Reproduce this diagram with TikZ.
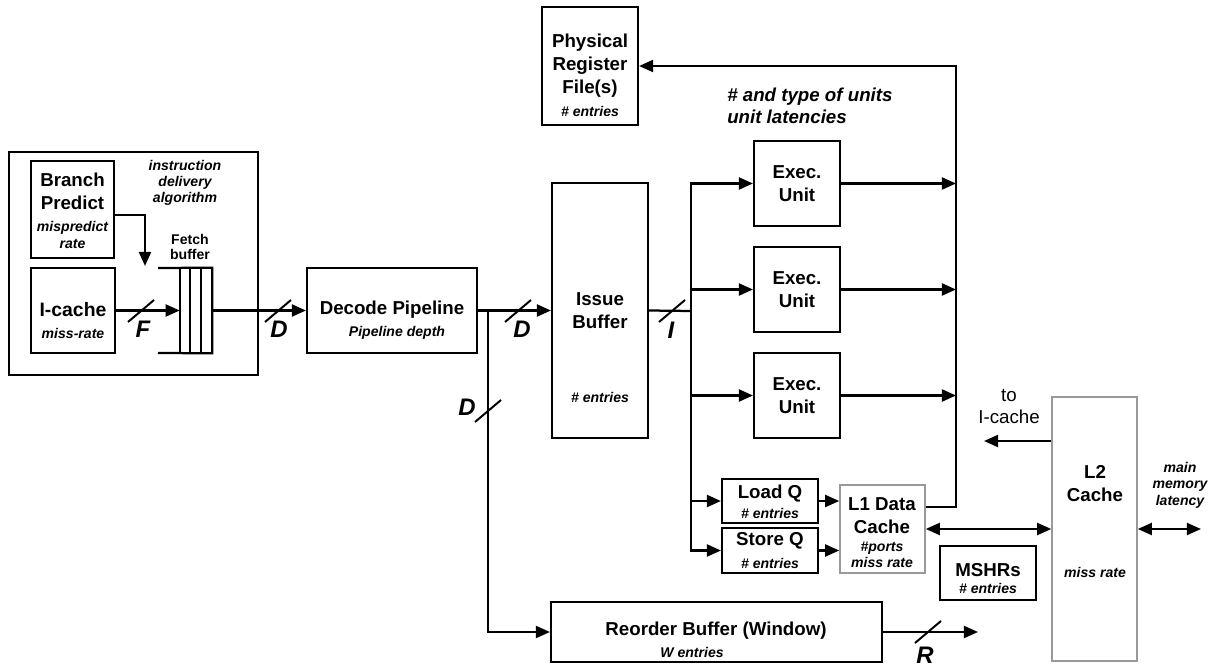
\documentclass[tikz,border=0pt]{standalone}
\usepackage{fontspec}
\setmainfont{Liberation Sans}
\usetikzlibrary{fit,arrows.meta}
\begin{document}
\begin{tikzpicture}[x=0.025cm,y=-0.025cm,
  box/.style={draw,line width=1.5pt,inner sep=0pt},
  gbox/.style={draw=black!40,line width=1.1pt,inner sep=0pt},
  ttl/.style={font=\bfseries\fontsize{13.3}{16.4}\selectfont,align=center,inner sep=0pt},
  sml/.style={font=\bfseries\itshape\fontsize{10}{11.5}\selectfont,align=center,inner sep=0pt},
  lbl/.style={font=\bfseries\itshape\fontsize{17}{20}\selectfont,inner sep=0pt},
  conn/.style={line width=1.6pt},
  arr/.style={conn,-{Triangle[length=10pt,width=8.5pt]}},
  darr/.style={conn,{Triangle[length=10pt,width=8.5pt]}-{Triangle[length=10pt,width=8.5pt]}},
  slashmark/.style={line width=1.4pt}]
\useasboundingbox (0,0) rectangle (1219,669);

% ---------- front end ----------
\node[box,fit={(9,152) (258,375)}] (front) {};
\node[box,fit={(31,161) (114,258)}] (bp) {};
\node[ttl] (bpt) at (72.5,191) {Branch\\Predict};
\node[sml] (bps) at (72.5,235) {mispredict\\rate};
\node[box,fit={(31,268) (115,353)}] (ic) {};
\node[ttl,font=\bfseries\fontsize{13.8}{16.4}\selectfont] (ict) at (73,310) {I-cache};
\node[sml] (ics) at (73,333) {miss-rate};
\node[sml,font=\bfseries\itshape\fontsize{10}{11.4}\selectfont] (alg) at (185,183) {instruction\\delivery\\algorithm};
\node[font=\bfseries\fontsize{10}{10}\selectfont,align=center,inner sep=0pt] (fbl) at (190,247) {Fetch\\buffer};

% fetch buffer
\node[inner sep=0pt,fit={(180,268) (212,353)}] (fb) {};
\draw[conn] (158,268) -- (fb.north east) -- (fb.south east) -- (158,353);
\draw[conn] (fb.north west) -- (fb.south west);
\draw[conn] (190,268) -- (190,353);
\draw[conn] (201,268) -- (201,353);

\coordinate (bpin) at (145,266);
\draw[arr] ([yshift=-4pt]bp.east) -| (bpin);
\draw[arr] (ic.east) -- (fb.west);
\coordinate (sF) at (141,311);
\draw[slashmark] ([shift={(-13,11)}]sF) -- ([shift={(13,-11)}]sF);
\node[lbl] (lF) at (143,329) {F};

% ---------- decode ----------
\node[box,fit={(307,268) (477,353)}] (dec) {};
\node[ttl] (dect) at (392,310) {Decode Pipeline};
\node[sml] (decs) at (397,333) {Pipeline depth};
\draw[arr] (fb.east) -- (dec.west);
\coordinate (sD1) at (278,311);
\draw[slashmark] ([shift={(-13,11)}]sD1) -- ([shift={(13,-11)}]sD1);
\node[lbl] (lD1) at (279,329) {D};

% ---------- issue buffer ----------
\node[box,fit={(552,183) (648,438)}] (iss) {};
\node[ttl] (isst) at (600,311) {Issue\\Buffer};
\node[sml] (isss) at (600,397) {\# entries};
\coordinate (br) at (488,311);
\draw[arr] (dec.east) -- (iss.west);
\coordinate (sD2) at (518,311);
\draw[slashmark] ([shift={(-13,11)}]sD2) -- ([shift={(13,-11)}]sD2);
\node[lbl] (lD2) at (522,329) {D};

% ---------- reorder buffer ----------
\node[box,fit={(551,602) (882,662)}] (rob) {};
\node[ttl] (robt) at (716,631) {Reorder Buffer (Window)};
\node[sml] (robs) at (692,652) {W entries};
\draw[arr] (br) |- (rob.west);
\coordinate (sD3) at (488,411);
\draw[slashmark] ([shift={(-13,11)}]sD3) -- ([shift={(13,-11)}]sD3);
\node[lbl] (lD3) at (467,407) {D};
\coordinate (robout) at (978,632);
\draw[arr] (rob.east) -- (robout);
\coordinate (sR) at (928,632);
\draw[slashmark] ([shift={(-13,11)}]sR) -- ([shift={(13,-11)}]sR);
\node[lbl] (lR) at (925,655) {R};

% ---------- physical register file ----------
\node[box,fit={(542,7) (638,125)}] (prf) {};
\node[ttl] (prft) at (590,66) {Physical\\Register\\File(s)};
\node[sml] (prfs) at (590,111) {\# entries};
\node[font=\bfseries\itshape\fontsize{13.3}{15.6}\selectfont,align=left,inner sep=0pt,anchor=west] (units) at (727,106) {\# and type of units\\unit latencies};

% ---------- exec units ----------
\node[box,fit={(754,141) (840,226)}] (ex1) {};
\node[ttl] (ex1t) at (ex1) {Exec.\\Unit};
\node[box,fit={(754,247) (840,332)}] (ex2) {};
\node[ttl] (ex2t) at (ex2) {Exec.\\Unit};
\node[box,fit={(754,353) (840,438)}] (ex3) {};
\node[ttl] (ex3t) at (ex3) {Exec.\\Unit};

% ---------- load / store queues ----------
\node[box,fit={(722,479) (818,523)}] (lq) {};
\node[ttl] (lqt) at (770,494) {Load Q};
\node[sml] (lqs) at (770,513) {\# entries};
\node[box,fit={(722,528) (818,573)}] (sq) {};
\node[ttl] (sqt) at (770,541) {Store Q};
\node[sml] (sqs) at (770,563) {\# entries};

\coordinate (bus) at (691,311);
\draw[conn] (iss.east) -- (bus);
\coordinate (sI) at (672,311);
\draw[slashmark] ([shift={(-13,11)}]sI) -- ([shift={(13,-11)}]sI);
\node[lbl] (lI) at (671,330) {I};
\draw[arr] (bus) |- (ex1.west);
\draw[arr] (bus) |- (ex2.west);
\draw[arr] (bus) |- (ex3.west);
\draw[arr] (bus) |- (lq.west);
\draw[arr] (bus) |- (sq.west);

% ---------- L1 / L2 ----------
\node[gbox,fit={(840,485) (925,573)}] (l1) {};
\node[ttl] (l1t) at (882,516) {L1 Data\\Cache};
\node[sml] (l1s) at (882,555) {\#ports\\miss rate};
\draw[arr] (lq.east) -- (lq.east -| l1.west);
\draw[arr] (sq.east) -- (sq.east -| l1.west);

\coordinate (rv) at (956,66);
\draw[arr] (ex1.east) -- (ex1.east -| rv);
\draw[arr] (ex2.east) -- (ex2.east -| rv);
\draw[arr] (ex3.east) -- (ex3.east -| rv);
\draw[arr] ([yshift=15.6pt]l1.east) -| (rv) -- (prf.east);

\node[gbox,fit={(1052,397) (1137,661)}] (l2) {};
\node[ttl] (l2t) at (1095,484) {L2\\Cache};
\node[sml] (l2s) at (1095,572) {miss rate};
\draw[darr] (l1.east) -- (l1.east -| l2.west);

\coordinate (toic) at (984,441);
\draw[arr] (l2.west |- toic) -- (toic);
\node[font=\fontsize{13.3}{15.6}\selectfont,align=center,inner sep=0pt] (toict) at (1009,407) {to\\I-cache};

\coordinate (mm) at (1201,529);
\draw[darr] (l2.east |- mm) -- (mm);
\node[sml,font=\bfseries\itshape\fontsize{10}{11.7}\selectfont] (mmt) at (1180,485) {main\\memory\\latency};

\node[box,fit={(940,546) (1036,600)}] (mshr) {};
\node[ttl] (msht) at (988,570) {MSHRs};
\node[sml] (mshs) at (988,588) {\# entries};
\end{tikzpicture}
\end{document}
